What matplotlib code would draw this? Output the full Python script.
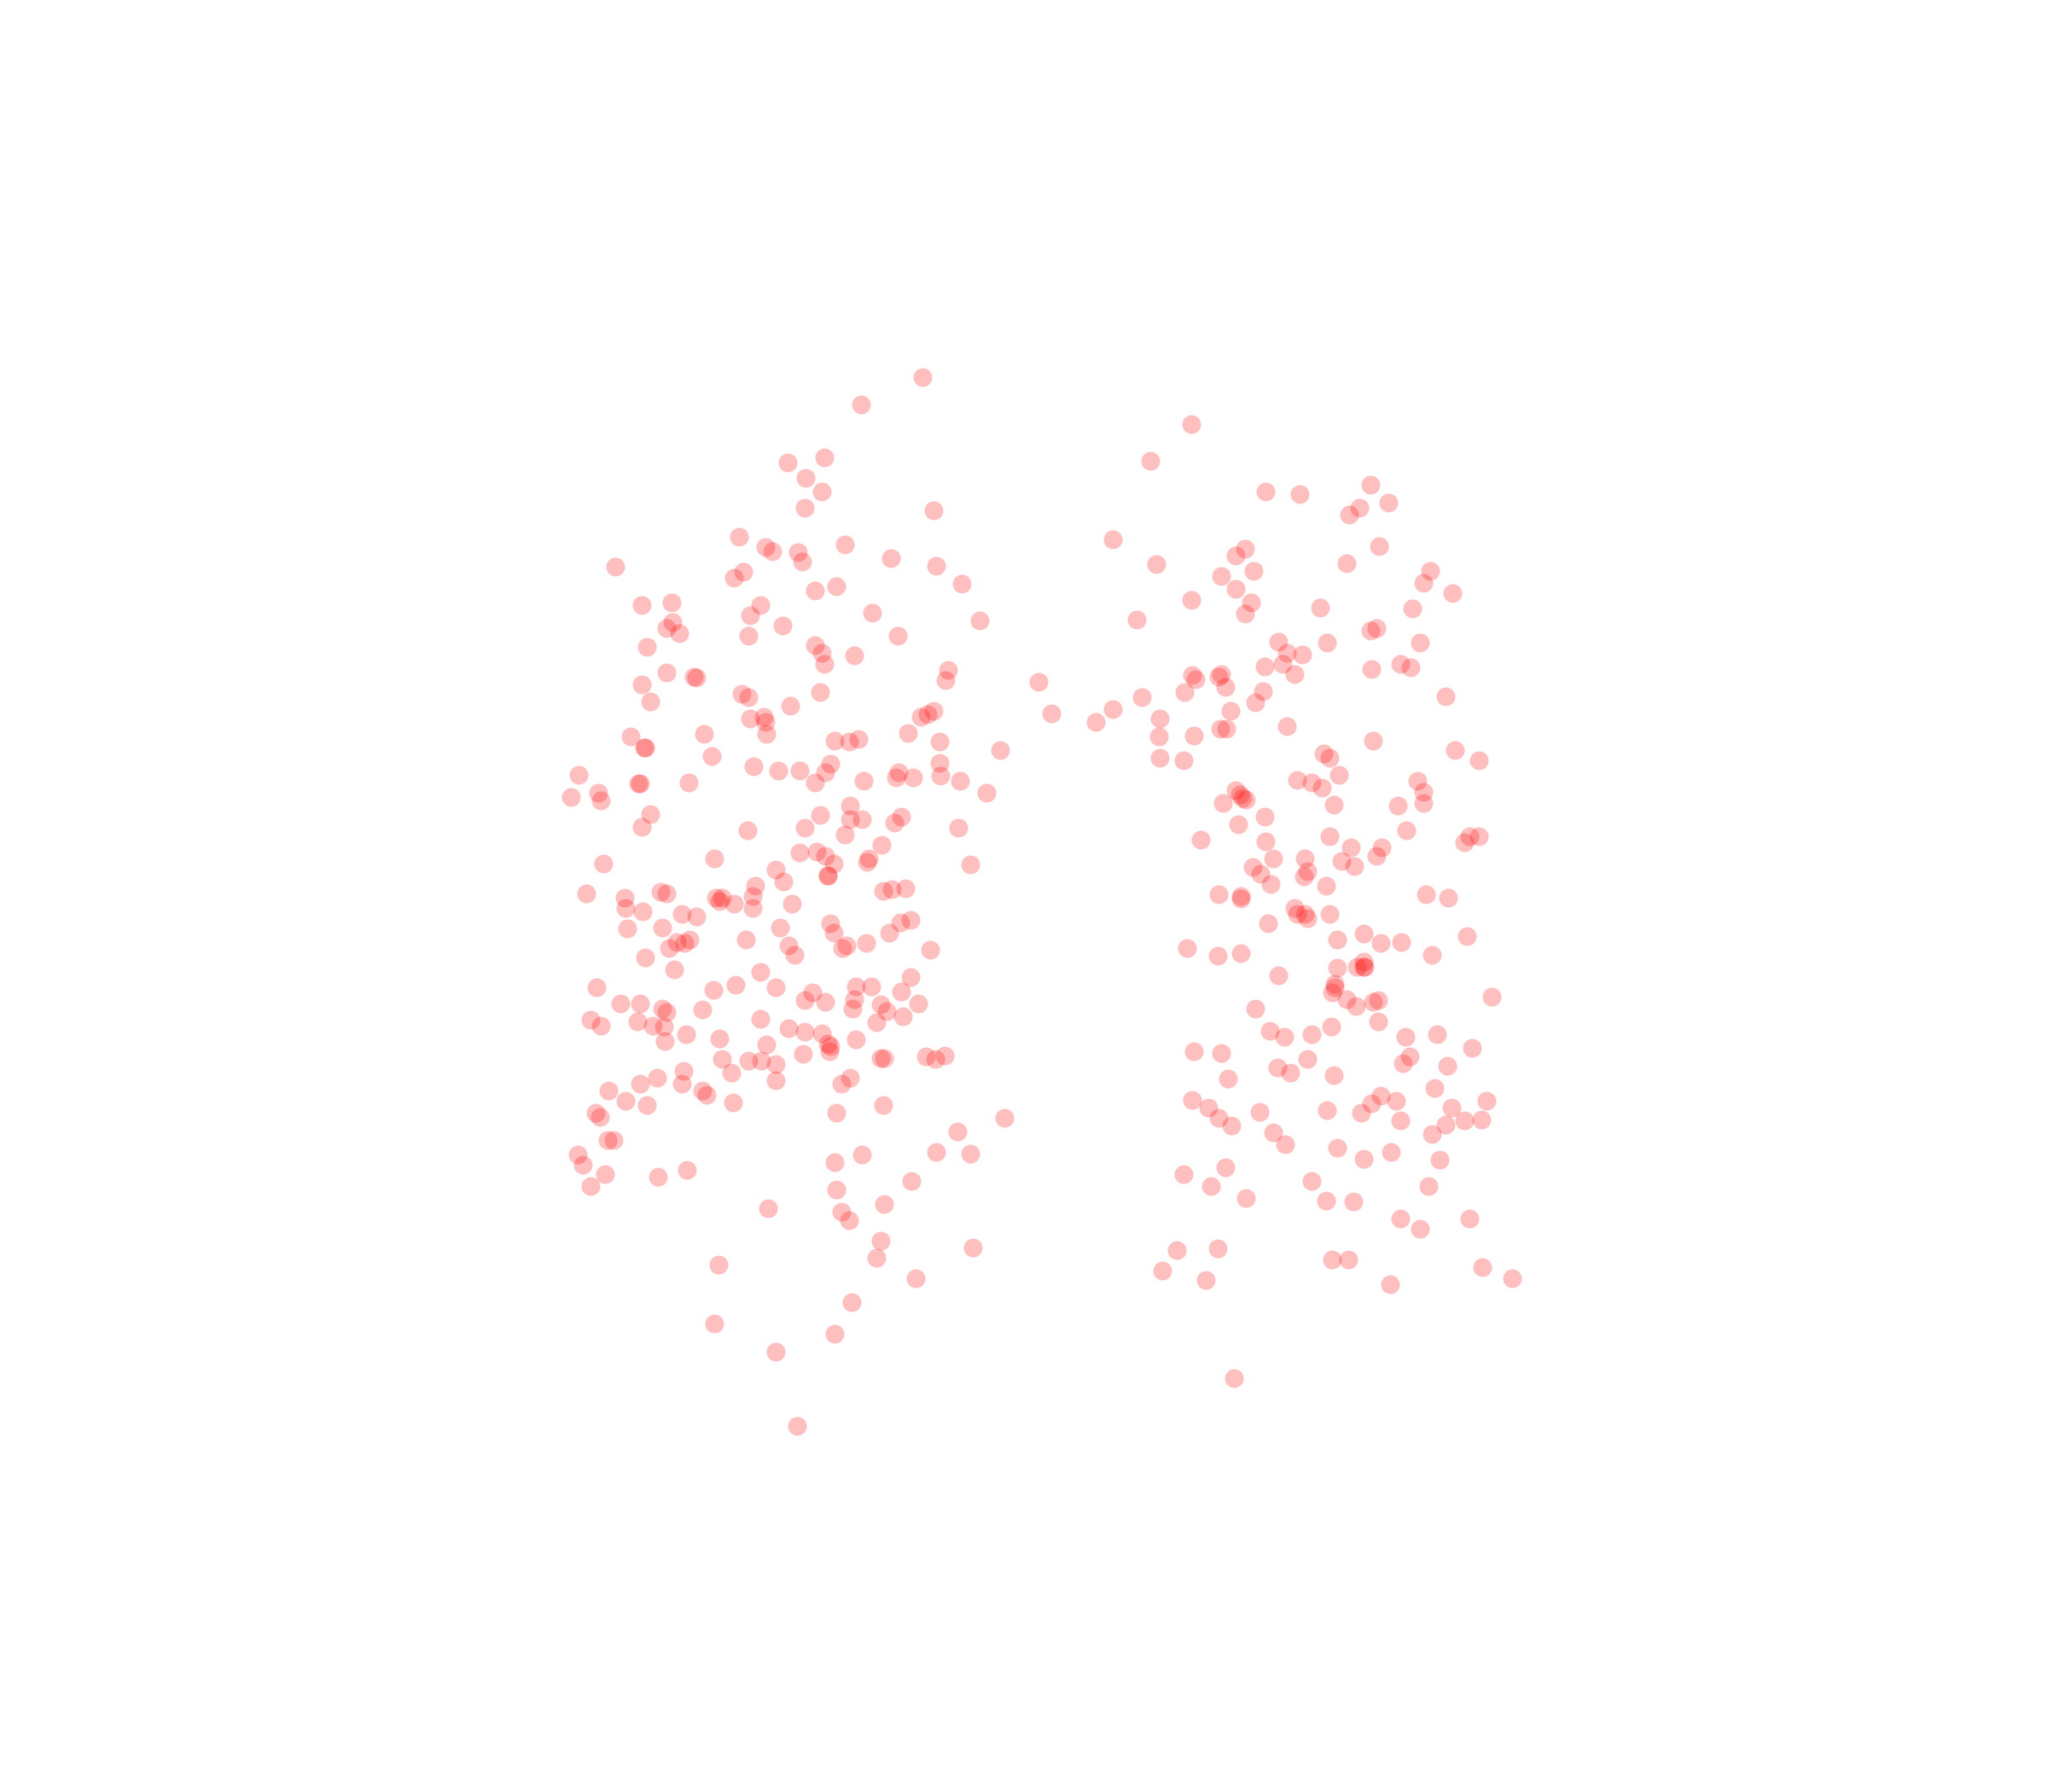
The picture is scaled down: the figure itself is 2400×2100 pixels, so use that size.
# Scatter of two point clouds

import matplotlib
matplotlib.use('Agg')
import matplotlib.pyplot as plt

left_x = [706, 659, 631, 603, 617, 629, 616, 715, 566, 586, 591, 611, 614, 647, 682, 717, 471, 569, 562, 624,
          640, 736, 491, 514, 582, 574, 668, 750, 515, 510, 520, 599, 573, 687, 495, 624, 629, 631, 654, 726,
          510, 531, 533, 491, 724, 568, 573, 628, 498, 605, 715, 710, 705, 574, 585, 586, 587, 539, 483, 695,
          493, 494, 639, 650, 657, 719, 766, 545, 577, 596, 612, 636, 632, 624, 661, 688, 686, 699, 719, 720,
          735, 755, 443, 437, 458, 460, 489, 490, 527, 651, 498, 628, 651, 660, 690, 685, 491, 572, 616, 647,
          734, 675, 612, 625, 632, 638, 547, 665, 664, 462, 743, 594, 634, 634, 600, 578, 449, 506, 510, 478,
          479, 548, 553, 551, 562, 576, 576, 606, 676, 683, 693, 492, 522, 533, 480, 507, 597, 636, 638, 697,
          689, 681, 518, 528, 524, 512, 571, 604, 608, 663, 648, 645, 712, 494, 516, 582, 697, 563, 546, 594,
          655, 667, 690, 457, 622, 616, 632, 654, 653, 674, 679, 703, 475, 490, 507, 510, 538, 582, 691, 671,
          452, 460, 488, 500, 508, 604, 616, 629, 525, 551, 509, 655, 634, 636, 635, 587, 615, 674, 677, 709,
          716, 723, 553, 573, 583, 594, 560, 523, 503, 490, 522, 594, 651, 644, 466, 538, 541, 479, 495, 561,
          676, 456, 459, 640, 769, 733, 465, 470, 717, 743, 660, 442, 446, 639, 463, 504, 526, 452, 698, 640,
          677, 588, 644, 650, 674, 745, 671, 550, 701, 652, 547, 639, 594, 610]
left_y = [289, 310, 350, 354, 366, 376, 389, 391, 411, 419, 422, 423, 430, 417, 427, 433, 434, 438, 442, 452,
          449, 447, 463, 461, 463, 471, 469, 475, 476, 481, 485, 479, 487, 487, 495, 494, 500, 508, 502, 513,
          515, 518, 519, 524, 521, 531, 534, 530, 537, 540, 544, 547, 549, 550, 549, 553, 562, 562, 564, 561,
          572, 572, 567, 568, 566, 568, 574, 579, 587, 590, 590, 585, 591, 599, 598, 591, 595, 595, 584, 594,
          598, 607, 593, 610, 607, 613, 600, 600, 599, 617, 623, 624, 627, 627, 625, 630, 633, 636, 634, 639,
          634, 647, 653, 652, 655, 661, 657, 657, 660, 661, 662, 666, 670, 670, 675, 678, 684, 683, 684, 687,
          695, 687, 687, 690, 692, 686, 695, 692, 682, 681, 680, 698, 700, 702, 711, 710, 710, 707, 714, 704,
          706, 714, 721, 719, 722, 726, 719, 724, 731, 722, 724, 726, 727, 733, 742, 744, 748, 754, 758, 756,
          755, 755, 759, 756, 760, 766, 767, 765, 772, 769, 774, 768, 768, 768, 772, 775, 773, 780, 778, 783,
          781, 785, 782, 785, 786, 787, 790, 791, 792, 795, 797, 796, 799, 801, 805, 800, 807, 810, 810, 809,
          811, 808, 811, 812, 812, 815, 821, 820, 825, 830, 830, 827, 825, 830, 835, 835, 838, 843, 846, 844,
          846, 852, 855, 852, 856, 866, 873, 873, 882, 883, 884, 884, 892, 890, 899, 901, 896, 908, 904, 911,
          922, 925, 928, 934, 950, 955, 963, 968, 979, 997, 1013, 1021, 1035, 1092]

right_x = [912, 881, 1049, 969, 995, 1063, 1041, 1033, 852, 1056, 953, 946, 885, 1031, 960, 935, 1095, 1090, 946, 1112,
           912, 958, 1081, 1011, 953, 870, 1054, 1049, 979, 1016, 1087, 985, 997, 968, 982, 1072, 1080, 1050, 991, 913,
           935, 933, 915, 795, 967, 938, 907, 874, 1107, 961, 852, 942, 805, 888, 839, 985, 934, 939, 887, 914,
           1051, 1114, 1013, 1018, 888, 906, 1132, 1025, 993, 1004, 1012, 1085, 946, 949, 951, 954, 936, 1090, 1090, 1021,
           1070, 968, 948, 1077, 1018, 1125, 1132, 1121, 919, 969, 1034, 1058, 1054, 1027, 1037, 975, 999, 959, 965, 1001,
           998, 973, 1015, 933, 950, 950, 1092, 1109, 991, 993, 999, 1001, 1018, 971, 1024, 1044, 1057, 1073, 1123, 909,
           932, 950, 1096, 1044, 1044, 1045, 1039, 1024, 979, 1022, 1022, 1020, 1031, 1038, 1051, 1055, 1142, 961, 1055, 1019,
           972, 983, 1004, 1076, 1100, 914, 935, 1127, 1079, 1074, 1001, 978, 988, 1108, 1021, 940, 1098, 1057, 1069, 1050,
           1042, 913, 925, 933, 964, 1016, 1138, 1111, 943, 1072, 1107, 1121, 1134, 975, 1096, 984, 1024, 1065, 1044, 1102,
           938, 906, 927, 1004, 1094, 954, 1015, 1036, 1072, 1125, 1087, 901, 932, 1020, 1032, 890, 923, 1135, 1158, 1064,
           945]
right_y = [325, 353, 371, 376, 378, 385, 389, 394, 413, 418, 420, 425, 432, 431, 437, 441, 437, 446, 451, 454,
           459, 461, 466, 465, 470, 474, 481, 483, 491, 492, 492, 500, 501, 510, 508, 508, 511, 512, 516, 517,
           516, 518, 520, 522, 529, 526, 530, 534, 533, 538, 543, 544, 546, 550, 553, 556, 558, 558, 564, 563,
           567, 574, 577, 580, 580, 582, 582, 593, 597, 599, 603, 598, 605, 608, 611, 612, 615, 606, 615, 616,
           617, 625, 631, 636, 640, 640, 640, 645, 643, 644, 649, 649, 655, 659, 663, 657, 657, 664, 669, 667,
           671, 677, 678, 685, 686, 688, 685, 687, 695, 700, 700, 703, 700, 707, 719, 715, 722, 721, 717, 726,
           732, 730, 731, 736, 740, 740, 740, 741, 747, 753, 756, 760, 765, 770, 767, 766, 763, 772, 782, 786,
           789, 794, 792, 794, 792, 805, 806, 802, 809, 814, 811, 817, 821, 816, 823, 826, 833, 839, 843, 845,
           852, 842, 848, 856, 851, 850, 843, 848, 862, 858, 861, 858, 857, 867, 868, 876, 879, 882, 887, 888,
           894, 899, 908, 904, 908, 917, 919, 920, 933, 933, 941, 957, 956, 964, 964, 973, 980, 970, 979, 983,
           1055]

fig = plt.figure(figsize=(24, 21), dpi=100)
ax = fig.add_axes([0, 0, 1, 1])

ax.scatter(left_x, left_y, s=250, c='red', alpha=0.25, linewidths=0)
ax.scatter(right_x, right_y, s=250, c='red', alpha=0.25, linewidths=0)

ax.set_xlim(0, 1568)
ax.set_ylim(1372, 0)
ax.axis('off')

fig.savefig('out.png', dpi=100)
